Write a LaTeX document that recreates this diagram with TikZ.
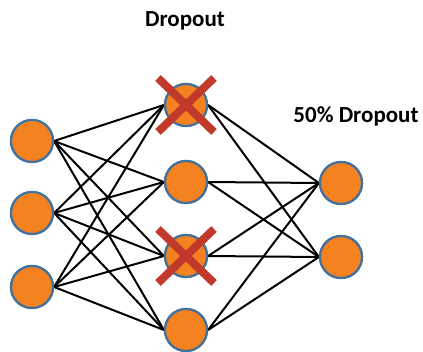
\documentclass[tikz,border=0pt]{standalone}
\usepackage{fontspec}
\setmainfont{Carlito}
\definecolor{neuronfill}{HTML}{F58220}
\definecolor{neuronedge}{HTML}{41719C}
\definecolor{crossred}{HTML}{C0392B}
\begin{document}
\begin{tikzpicture}[x=1pt,y=-1pt,
  neuron/.style={circle,fill=neuronfill,draw=neuronedge,line width=2.2pt,minimum size=42pt,inner sep=0pt},
  link/.style={line width=2pt,black},
  crossbar/.style={line width=8pt,crossred},
  title/.style={font=\bfseries\fontsize{23}{26}\selectfont}]
\useasboundingbox (0,0) rectangle (423,351);
% input layer
\node[neuron] (i1) at (32,141) {};
\node[neuron] (i2) at (32,213) {};
\node[neuron] (i3) at (32,287) {};
% hidden layer
\node[neuron] (h1) at (186,105) {};
\node[neuron] (h2) at (186,182) {};
\node[neuron] (h3) at (186,256) {};
\node[neuron] (h4) at (186,330) {};
% output layer
\node[neuron] (o1) at (341,183) {};
\node[neuron] (o2) at (341,257) {};
% connections
\foreach \i in {i1,i2,i3}
  \foreach \h in {h1,h2,h3,h4}
    \draw[link] (\i.east) -- (\h.west);
\foreach \h in {h1,h2,h3,h4}
  \foreach \o in {o1,o2}
    \draw[link] (\h.east) -- (\o.west);
% redraw neurons over the links
\foreach \p in {{32,141},{32,213},{32,287},{186,105},{186,182},{186,256},{186,330},{341,183},{341,257}}
  \node[neuron] at (\p) {};
% dropped units
\foreach \h in {h1,h3} {
  \draw[crossbar] ([shift={(-28,-27)}]\h.center) -- ([shift={(28,27)}]\h.center);
  \draw[crossbar] ([shift={(28,-27)}]\h.center) -- ([shift={(-28,27)}]\h.center);
}
% labels
\node[title] (t1) at (185,21) {Dropout};
\node[title] (t2) at (356,116) {50\% Dropout};
\end{tikzpicture}
\end{document}
